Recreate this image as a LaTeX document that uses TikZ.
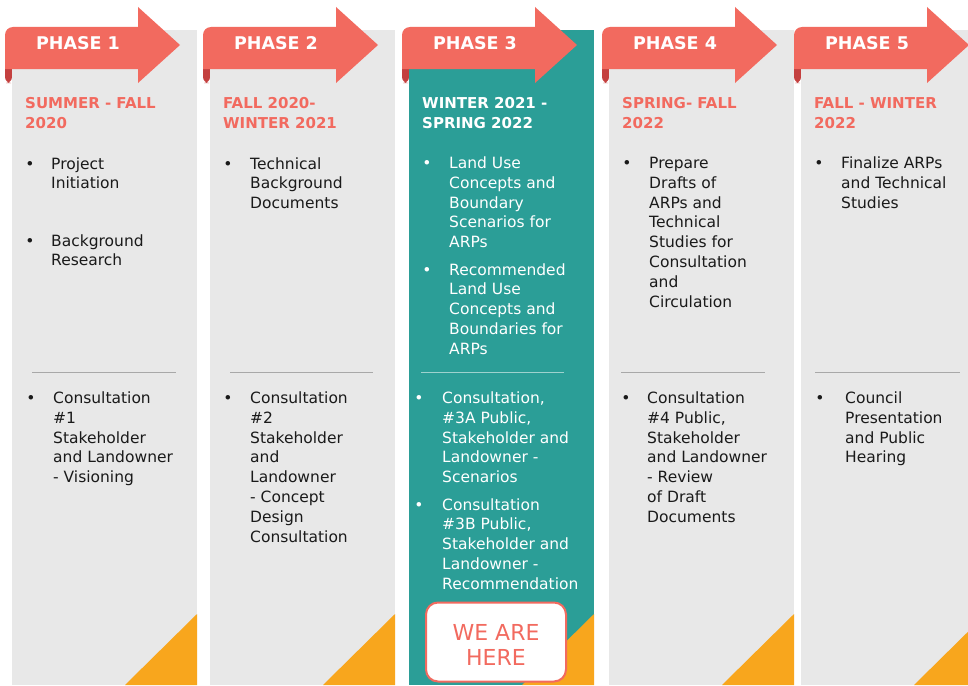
\documentclass[tikz,border=0pt]{standalone}
\usepackage{fontspec}
\setmainfont{DejaVu Sans}
\definecolor{salmon}{HTML}{F26A5F}
\definecolor{curlred}{HTML}{C4403F}
\definecolor{panelgrey}{HTML}{E8E8E8}
\definecolor{teal}{HTML}{2B9E97}
\definecolor{orangec}{HTML}{F8A61D}
\definecolor{bodytext}{HTML}{1A1A1A}
\definecolor{sepgrey}{HTML}{A8A8A8}
\definecolor{seplight}{HTML}{9ED2CE}
\begin{document}
% note: for multi-line nodes the base anchor is the baseline of the LAST line
\begin{tikzpicture}[x=1pt,y=-1pt,
  phaselabel/.style={anchor=base, inner sep=0pt, text=white, font=\bfseries\fontsize{17.5}{20}\selectfont},
  headtxt/.style={anchor=base west, inner sep=0pt, align=left, text=salmon, font=\bfseries\fontsize{15}{19.5}\selectfont},
  bodytxt/.style={anchor=base west, inner sep=0pt, align=left, text=bodytext, font=\fontsize{15.5}{19.8}\selectfont},
  bul/.style={anchor=base, inner sep=0pt, text=bodytext, font=\fontsize{15.5}{19.8}\selectfont},
  sepline/.style={draw=sepgrey, line width=1pt}
]
\useasboundingbox (0,0) rectangle (968,685);
\fill[white] (0,0) rectangle (968,685);

% ribbon curls (behind panels)
\foreach \L in {5,203,402,602,794}{
  \fill[curlred] (\L,62) -- (\L,76) [rounded corners=6pt] -- (\L,83) -- (\L+7,83) [sharp corners] -- (\L+7,62) -- cycle;
}
% panels
\foreach \P/\c in {12/panelgrey,210/panelgrey,409/teal,609/panelgrey,801/panelgrey}{
  \fill[\c] (\P,30) rectangle (\P+185,685);
  \fill[orangec] (\P+185,614) -- (\P+185,685) -- (\P+113,685) -- cycle;
}
% arrows
\foreach \L/\n in {5/1,203/2,402/3,602/4,794/5}{
  \fill[salmon] (\L,69) -- (\L,45) [rounded corners=8pt] -- (\L,27) -- (\L+60,27) [sharp corners] -- (\L+133,27) -- (\L+133,7) -- (\L+175,45) -- (\L+133,83) -- (\L+133,69) -- cycle;
  \node[phaselabel] (ph\n) at (\L+73,50) {PHASE \n};
}

% ---- Column 1
\node[headtxt] (h1) at (25,128) {SUMMER - FALL\\2020};
\node[bul] (b1a) at (30,169) {•};
\node[bodytxt] (t1a) at (51,188.8) {Project\\Initiation};
\node[bul] (b1b) at (30,246) {•};
\node[bodytxt] (t1b) at (51,265.8) {Background\\Research};
\draw[sepline] (32,372) -- (176,372);
\node[bul] (b1c) at (31,403.5) {•};
\node[bodytxt] (t1c) at (53,482.7) {Consultation\\\#1\\Stakeholder\\and Landowner\\- Visioning};

% ---- Column 2
\node[headtxt] (h2) at (223,128) {FALL 2020-\\WINTER 2021};
\node[bul] (b2a) at (228,169) {•};
\node[bodytxt] (t2a) at (250,208.6) {Technical\\Background\\Documents};
\draw[sepline] (230,372) -- (373,372);
\node[bul] (b2b) at (228,403.5) {•};
\node[bodytxt] (t2b) at (250,542.1) {Consultation\\\#2\\Stakeholder\\and\\Landowner\\- Concept\\Design\\Consultation};

% ---- Column 3
\node[headtxt, text=white] (h3) at (422,128) {WINTER 2021 -\\SPRING 2022};
\node[bul, text=white] (b3a) at (427,168.5) {•};
\node[bodytxt, text=white] (t3a) at (449,247.7) {Land Use\\Concepts and\\Boundary\\Scenarios for\\ARPs};
\node[bul, text=white] (b3b) at (427,275) {•};
\node[bodytxt, text=white] (t3b) at (449,354.2) {Recommended\\Land Use\\Concepts and\\Boundaries for\\ARPs};
\draw[sepline, draw=seplight] (421,372) -- (564,372);
\node[bul, text=white] (b3c) at (419,403.5) {•};
\node[bodytxt, text=white] (t3c) at (442,482.7) {Consultation,\\\#3A Public,\\Stakeholder and\\Landowner -\\Scenarios};
\node[bul, text=white] (b3d) at (419,510) {•};
\node[bodytxt, text=white] (t3d) at (442,589.2) {Consultation\\\#3B Public,\\Stakeholder and\\Landowner -\\Recommendation};
\node[draw=salmon, line width=2pt, fill=white, rounded corners=12pt, minimum width=140pt, minimum height=79pt, inner sep=0pt] (herebox) at (496,642) {};
\node[anchor=base, inner sep=0pt, align=center, text=salmon, font=\fontsize{22}{25}\selectfont] (heretxt) at (496,665) {WE ARE\\HERE};

% ---- Column 4
\node[headtxt] (h4) at (622,128) {SPRING- FALL\\2022};
\node[bul] (b4a) at (627,168.5) {•};
\node[bodytxt] (t4a) at (649,307.1) {Prepare\\Drafts of\\ARPs and\\Technical\\Studies for\\Consultation\\and\\Circulation};
\draw[sepline] (621,372) -- (765,372);
\node[bul] (b4b) at (626,403.5) {•};
\node[bodytxt] (t4b) at (647,522.3) {Consultation\\\#4 Public,\\Stakeholder\\and Landowner\\- Review\\of Draft\\Documents};

% ---- Column 5
\node[headtxt] (h5) at (814,128) {FALL - WINTER\\2022};
\node[bul] (b5a) at (819,168.5) {•};
\node[bodytxt] (t5a) at (841,208.1) {Finalize ARPs\\and Technical\\Studies};
\draw[sepline] (815,372) -- (960,372);
\node[bul] (b5b) at (820,403.5) {•};
\node[bodytxt] (t5b) at (845,462.9) {Council\\Presentation\\and Public\\Hearing};
\end{tikzpicture}
\end{document}
